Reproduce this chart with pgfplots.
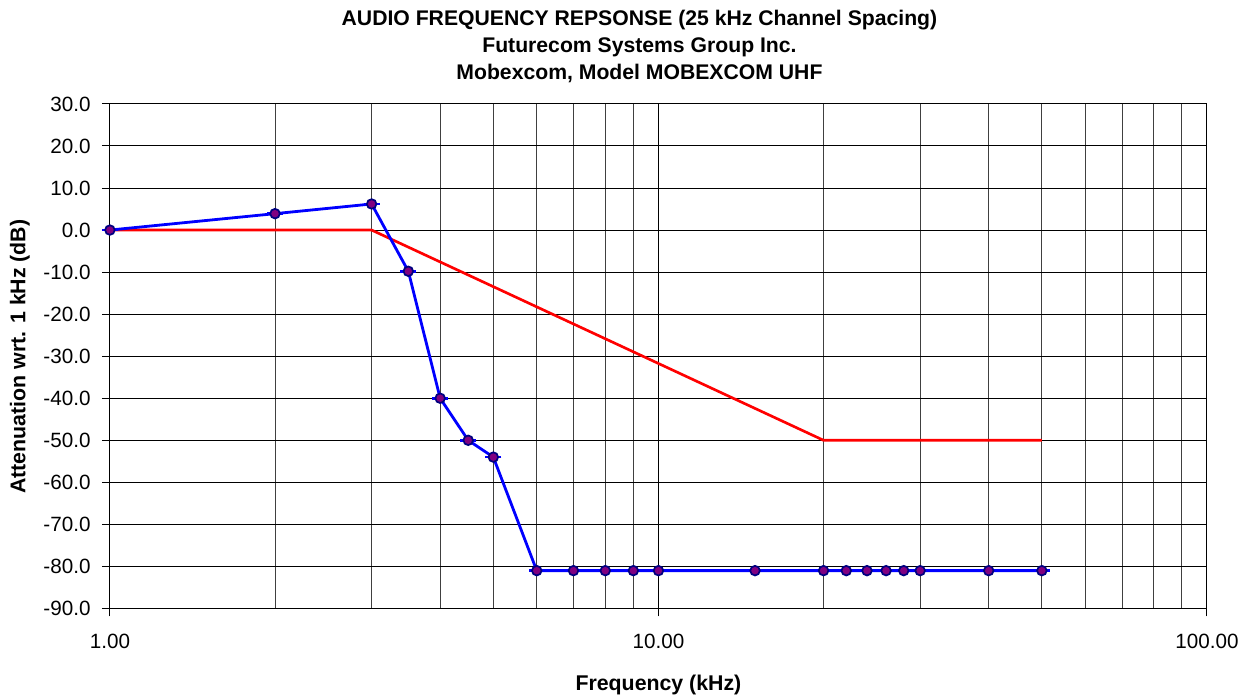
\documentclass[border=0pt]{standalone}
\usepackage{pgfplots}
\pgfplotsset{compat=1.18}
\usepackage{fontspec}
\setmainfont{Liberation Sans}

\definecolor{ptfill}{HTML}{800080}
\definecolor{ptedge}{HTML}{000080}

\begin{document}
\begin{tikzpicture}
\begin{axis}[
  name=ax, at={(0,0)}, anchor=south west,
  scale only axis,
  width=823.5pt, height=378.75pt,
  xmode=log,
  xmin=1, xmax=100,
  ymin=-90, ymax=30,
  xtick={1,10,100},
  xticklabels={1.00,10.00,100.00},
  ytick={-90,-80,...,30},
  yticklabels={-90.0,-80.0,-70.0,-60.0,-50.0,-40.0,-30.0,-20.0,-10.0,0.0,10.0,20.0,30.0},
  /pgf/number format/assume math mode=true,
  tick label style={font=\fontsize{15.5}{17}\selectfont, black},
  xticklabel style={yshift=-10pt},
  yticklabel style={xshift=-5pt},
  xmajorgrids, xminorgrids, ymajorgrids,
  major grid style={black, line width=0.75pt},
  minor grid style={black!75, line width=0.75pt},
  tick style={black, line width=0.75pt},
  major tick length=6pt, minor tick length=0pt,
  tick align=outside,
  xtick pos=bottom, ytick pos=left,
  axis line style={black, line width=0.75pt},
  clip=false,
]
% red limit mask
\addplot[red, line width=2pt] coordinates {
  (1,0) (3,0) (20,-50) (50,-50)
};
% little horizontal dashes at every measured point
\addplot[blue, only marks, mark=-, mark size=6pt, mark options={line width=2pt}] coordinates {
  (1,0) (2,3.9) (3,6.2) (3.5,-9.8) (4,-40) (4.5,-50) (5,-54)
  (6,-81) (7,-81) (8,-81) (9,-81) (10,-81) (15,-81)
  (20,-81) (22,-81) (24,-81) (26,-81) (28,-81) (30,-81) (40,-81) (50,-81)
};
% measured response
\addplot[blue, line width=2.1pt, mark=*, mark size=3.6pt,
  mark options={fill=ptfill, draw=ptedge, line width=1.3pt}] coordinates {
  (1,0) (2,3.9) (3,6.2) (3.5,-9.8) (4,-40) (4.5,-50) (5,-54)
  (6,-81) (7,-81) (8,-81) (9,-81) (10,-81) (15,-81)
  (20,-81) (22,-81) (24,-81) (26,-81) (28,-81) (30,-81) (40,-81) (50,-81)
};
\end{axis}
\node[font=\bfseries\fontsize{15.9}{18}\selectfont] at (397.5pt,441.75pt) {AUDIO FREQUENCY REPSONSE (25 kHz Channel Spacing)};
\node[font=\bfseries\fontsize{15.9}{18}\selectfont] at (397.5pt,421.5pt) {Futurecom Systems Group Inc.};
\node[font=\bfseries\fontsize{15.9}{18}\selectfont] at (397.5pt,401.25pt) {Mobexcom, Model MOBEXCOM UHF};
\node[font=\bfseries\fontsize{16}{18}\selectfont] at (411.75pt,-57.75pt) {Frequency (kHz)};
\node[font=\bfseries\fontsize{16}{18}\selectfont, rotate=90] at (-67.5pt,189pt) {Attenuation wrt. 1 kHz (dB)};
\useasboundingbox (-82.5pt,-65.25pt) rectangle (849.75pt,456.75pt);
\end{tikzpicture}
\end{document}
